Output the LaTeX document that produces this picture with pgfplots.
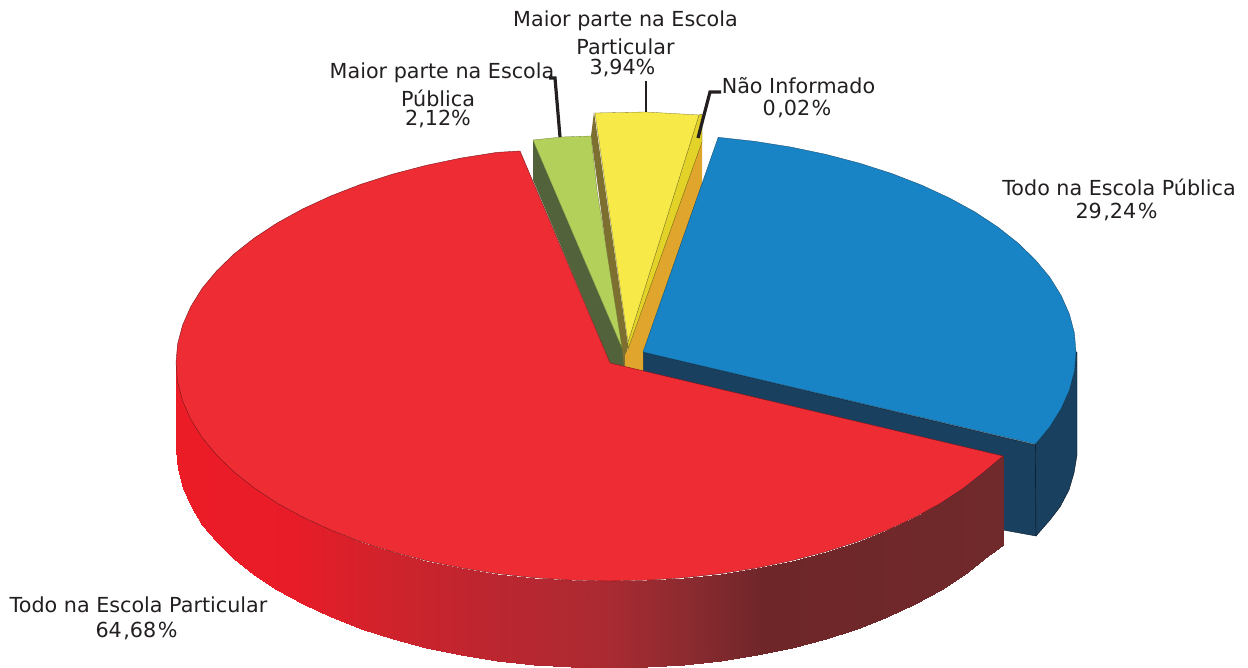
\documentclass[border=0pt]{standalone}
\usepackage{pgfplots}
\pgfplotsset{compat=1.18}
\usepackage{fontspec}
\setmainfont{DejaVu Sans}
\definecolor{cred}{HTML}{EE2C34}
\definecolor{cblue}{HTML}{1984C5}
\definecolor{cnavy}{HTML}{1A4060}
\definecolor{cyellow}{HTML}{F7EA48}
\definecolor{cstrip}{HTML}{E3D227}
\definecolor{cgreen}{HTML}{B3D05A}
\definecolor{cdgreen}{HTML}{52623A}
\definecolor{colive}{HTML}{7D6F2F}
\definecolor{corange}{HTML}{E0A52C}
\definecolor{ctext}{HTML}{231F20}
\pgfplotsset{colormap={redwall}{rgb255(176pt)=(236,28,38) rgb255(290pt)=(232,28,40) rgb255(387pt)=(208,35,43) rgb255(495pt)=(187,38,48) rgb255(604pt)=(171,42,50) rgb255(685pt)=(140,43,48) rgb255(766pt)=(110,38,41) rgb255(1003pt)=(113,42,44)}}
\tikzset{lbl/.style={font=\fontsize{20.7}{24}\selectfont,text=ctext,inner sep=0pt,anchor=center}}
\begin{document}
\begin{tikzpicture}
\useasboundingbox (0,0) rectangle (1248pt,668pt);
\begin{axis}[
  at={(0,0)},anchor=south west,
  width=1248pt,height=668pt,scale only axis,
  xmin=0,xmax=1248,ymin=0,ymax=668,y dir=reverse,
  hide axis,
]
% blue slice: walls
\addplot[fill=cnavy,draw=black!70!cnavy,line width=.4pt] coordinates {
 (643,352)(1036,445)(1036,536)(1003,530)(643,450)(643,352)};
\addplot[fill=cnavy,draw=black!70!cnavy,line width=.4pt] coordinates {
 (1035.4,444.1)(1049.9,426.6)(1061.2,408.4)(1069.4,389.9)(1074.4,371)(1076,352)
 (1077,352)(1077,455)(1074,473)(1069,490)(1060,507)(1050,520)(1036,536)(1035.4,444.1)};
% yellow slice
\addplot[fill=colive,draw=none] coordinates {
 (594,112)(628,345)(626,366)(622,366)(591,136)(594,112)};
\addplot[fill=corange,draw=none] coordinates {
 (702,141)(702,186)(643,352)(643,373)(625,368)(625,355)(628,349)(702,141)};
\addplot[fill=cstrip,draw=black!60!cstrip,line width=.3pt] coordinates {
 (699,115)(702,114)(702,142)(628,349)(628,342)(699,115)};
\addplot[fill=cyellow,draw=black!50!cyellow,line width=.3pt] coordinates {
 (595,113)(646,112)(699,115)(628,342)(595,113)};
% green slice
\addplot[fill=cdgreen,draw=none] coordinates {
 (533,140)(622,348)(624,368)(610,363)(533,180)(533,140)};
\addplot[fill=cgreen,draw=black!40!cgreen,line width=.3pt] coordinates {
 (533,140)(562,137)(591,136)(597,190)(622,348)(533,140)};
% blue top
\addplot[fill=cblue,draw=black!50!cblue,line width=.3pt] coordinates {
 (643,352)(718.2,137.3)(755.1,141.4)(791.1,147.1)(826,154.4)(859.5,163.2)(891.4,173.4)
 (921.3,185)(949.2,197.9)(974.7,211.8)(997.7,227)(1018,243)(1035.4,259.9)(1049.9,277.4)
 (1061.2,295.6)(1069.4,314.1)(1074.4,333)(1076,352)(1074.4,371)(1069.4,389.9)(1061.2,408.4)
 (1049.9,426.6)(1035.4,444.1)(643,352)};
% red side wall: upper edge left to right, then lower edge
\addplot[surf,shader=interp,colormap name=redwall,mesh/rows=2,mesh/ordering=x varies,
  point meta=x,point meta min=176,point meta max=1003] table[row sep=\\] {
 x y\\
 176 363\\ 177.6 382\\ 182.6 400.9\\ 190.8 419.4\\ 202.1 437.6\\ 216.6 455.1\\ 234 472\\ 254.3 488\\
 277.3 503.2\\ 302.8 517.1\\ 330.7 530\\ 360.6 541.6\\ 392.5 551.8\\ 426 560.6\\ 460.9 567.9\\ 496.9 573.6\\
 533.8 577.7\\ 571.2 580.2\\ 609 581\\ 646.8 580.2\\ 684.2 577.7\\ 721.1 573.6\\ 757.1 567.9\\ 792 560.6\\
 825.5 551.8\\ 857.4 541.6\\ 887.3 530\\ 915.2 517.1\\ 940.7 503.2\\ 963.7 488\\ 984 472\\ 1003 456\\
 176 450\\ 177.6 469\\ 182.6 487.9\\ 190.8 506.4\\ 202.1 524.6\\ 216.6 542.1\\ 234 559\\ 254.3 575\\
 277.3 590.2\\ 302.8 604.1\\ 330.7 617\\ 360.6 628.6\\ 392.5 638.8\\ 426 647.6\\ 460.9 654.9\\ 496.9 660.6\\
 533.8 664.7\\ 571.2 667.2\\ 609 668\\ 646.8 667.2\\ 684.2 664.7\\ 721.1 660.6\\ 757.1 654.9\\ 792 647.6\\
 825.5 638.8\\ 857.4 628.6\\ 887.3 617\\ 915.2 604.1\\ 940.7 590.2\\ 963.7 575\\ 984 559\\ 1003 545\\
};
% red top
\addplot[fill=cred,draw=black!50!cred,line width=.4pt] coordinates {
 (610,363)(1003,456)(984,472)(963.7,488)(940.7,503.2)(915.2,517.1)(887.3,530)(857.4,541.6)(825.5,551.8)
 (792,560.6)(757.1,567.9)(721.1,573.6)(684.2,577.7)(646.8,580.2)(609,581)(571.2,580.2)(533.8,577.7)
 (496.9,573.6)(460.9,567.9)(426,560.6)(392.5,551.8)(360.6,541.6)(330.7,530)(302.8,517.1)(277.3,503.2)
 (254.3,488)(234,472)(216.6,455.1)(202.1,437.6)(190.8,419.4)(182.6,400.9)(177.6,382)(176,363)
 (177.6,344)(182.6,325.1)(190.8,306.6)(202.1,288.4)(216.6,270.9)(234,254)(254.3,238)(277.3,222.9)
 (302.8,208.9)(330.7,196)(360.6,184.4)(392.5,174.2)(426,165.4)(460.9,158.1)(496.9,152.4)(520,151)(610,363)};
% leader lines
\addplot[ctext,line width=3.2pt,line join=miter] coordinates {(549,78)(555,78)(560,137)};
\addplot[ctext,line width=2.6pt] coordinates {(646,81)(646,112)};
\addplot[ctext,line width=3.2pt,line join=miter] coordinates {(721,92)(710,92)(698,138)};
% labels
\node[lbl] at (axis cs:625.5,21) {Maior parte na Escola};
\node[lbl] at (axis cs:625.5,47) {Particular};
\node[lbl] at (axis cs:622.5,68) {3,94\%};
\node[lbl] at (axis cs:442,73) {Maior parte na Escola};
\node[lbl] at (axis cs:438,98) {Pública};
\node[lbl] at (axis cs:438,119) {2,12\%};
\node[lbl] at (axis cs:798.5,86) {Não Informado};
\node[lbl] at (axis cs:797,109) {0\kern1.5pt,02\kern1.5pt\%};
\node[lbl] at (axis cs:1119,187) {Todo na Escola Pública};
\node[lbl] at (axis cs:1116.5,212) {29\kern1.5pt,24\kern1.5pt\%};
\node[lbl] at (axis cs:138.5,605) {Todo na Escola Particular};
\node[lbl] at (axis cs:136.5,631) {64\kern1.5pt,68\kern1.5pt\%};
\end{axis}
\end{tikzpicture}
\end{document}
